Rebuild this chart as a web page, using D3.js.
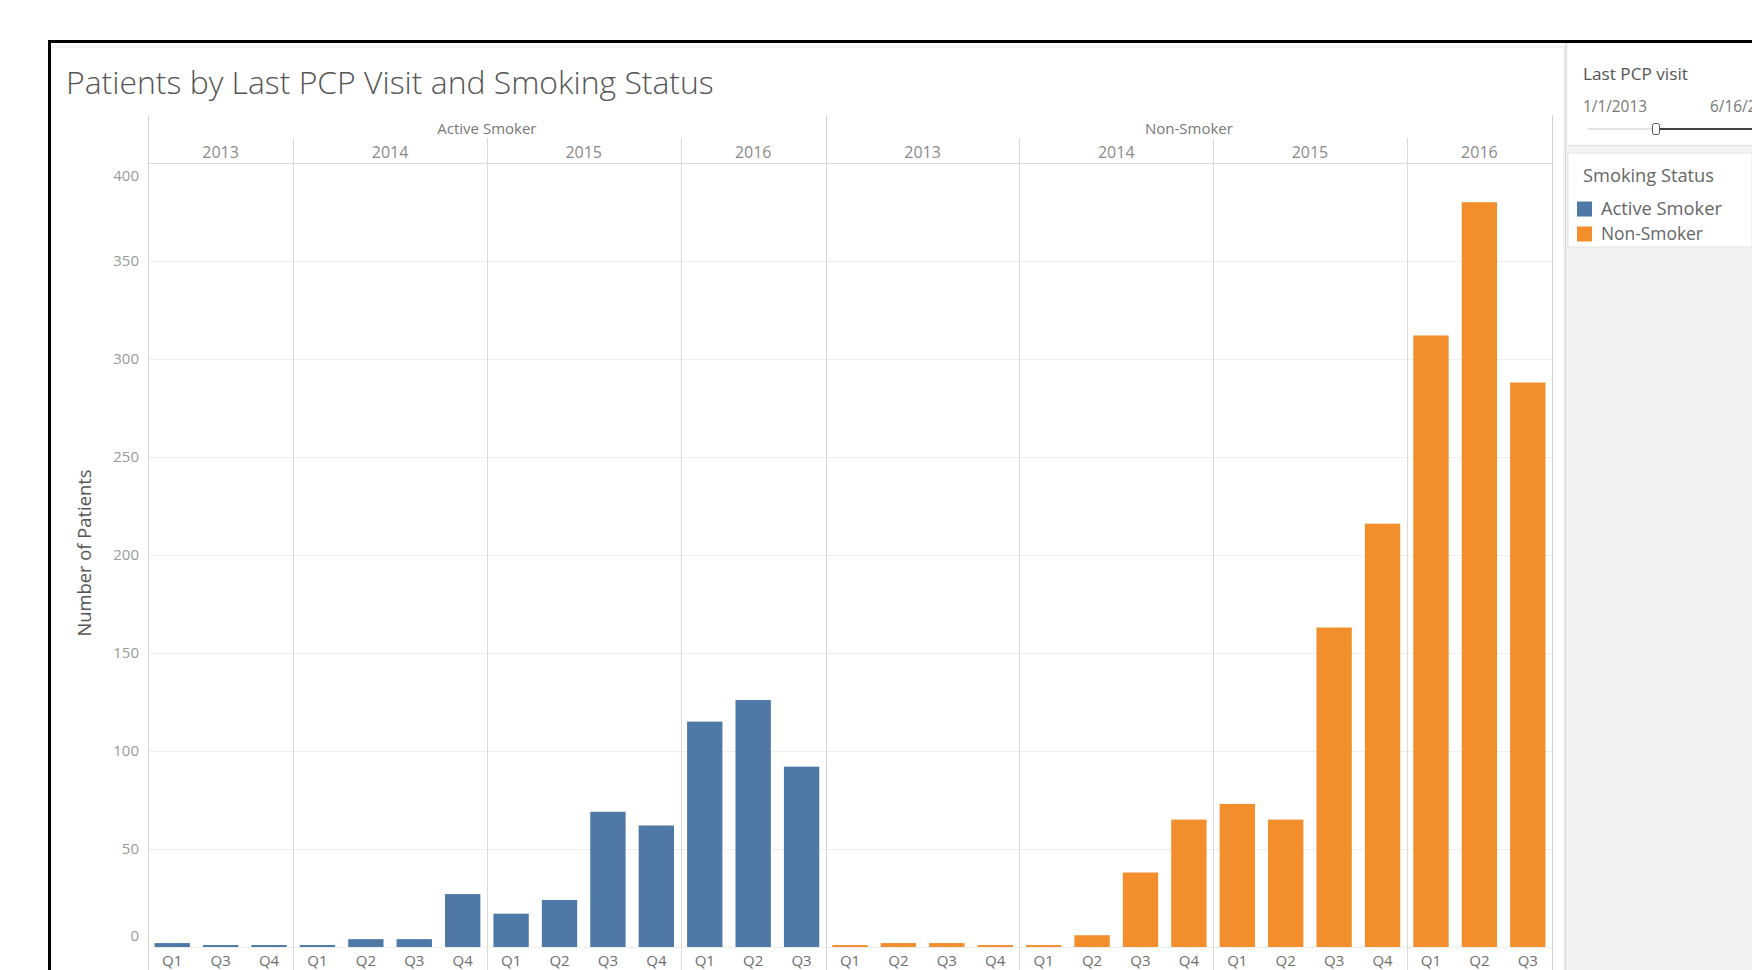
<!DOCTYPE html>
<html>
<head>
<meta charset="utf-8">
<script src="https://cdn.jsdelivr.net/npm/d3@7"></script>
<style>
  html, body { margin: 0; padding: 0; background: #fff; overflow: hidden; }
  svg { display: block; }
  text { font-family: "Open Sans", "DejaVu Sans", sans-serif; }
</style>
</head>
<body>
<svg id="chart" width="1752" height="970"></svg>
<script>
// ---- data -------------------------------------------------------------
const statuses = ["Active Smoker", "Non-Smoker"];
const years = ["2013", "2014", "2015", "2016"];

const activeQuarters = [["Q1", "Q3", "Q4"], ["Q1", "Q2", "Q3", "Q4"], ["Q1", "Q2", "Q3", "Q4"], ["Q1", "Q2", "Q3"]];
const activeValues   = [[2, 1, 1], [1, 4, 4, 27], [17, 24, 69, 62], [115, 126, 92]];

const nonQuarters = [["Q1", "Q2", "Q3", "Q4"], ["Q1", "Q2", "Q3", "Q4"], ["Q1", "Q2", "Q3", "Q4"], ["Q1", "Q2", "Q3"]];
const nonValues   = [[1, 2, 2, 1], [1, 6, 38, 65], [73, 65, 163, 216], [312, 380, 288]];

const yTicks = [0, 50, 100, 150, 200, 250, 300, 350, 400];
const statusColors = ["#4e79a7", "#f28e2b"];

const chartTitle = "Patients by Last PCP Visit and Smoking Status";
const yTitle = "Number of Patients";
const filterTitle = "Last PCP visit";
const filterStart = "1/1/2013";
const filterEnd = "6/16/2016";
const legendTitle = "Smoking Status";

// ---- flatten into rows ------------------------------------------------
const quarterSets = [activeQuarters, nonQuarters];
const valueSets = [activeValues, nonValues];
const rows = [];
statuses.forEach((s, si) => {
  years.forEach((yr, yi) => {
    quarterSets[si][yi].forEach((q, qi) => {
      rows.push({ status: s, si, year: yr, quarter: q, value: valueSets[si][yi][qi], key: `${s}|${yr}|${q}` });
    });
  });
});

// ---- layout -----------------------------------------------------------
const svg = d3.select("#chart");
const W = 1752, H = 970;
const plot = { left: 148, right: 1552, top: 163, bottom: 947 };
const headerTop = 115, yearTop = 138;

// Fit a text element to a target width by scaling its font size
function fit(sel, target) {
  const node = sel.node();
  const fs = parseFloat(sel.attr("font-size"));
  const w = node.getComputedTextLength();
  if (w > 0) sel.attr("font-size", (fs * target / w).toFixed(2));
  return sel;
}

// Outer frame
svg.append("rect").attr("x", 0).attr("y", 0).attr("width", W).attr("height", H).attr("fill", "#fff");
svg.append("rect").attr("x", 51).attr("y", 47).attr("width", 1513).attr("height", H)
  .attr("fill", "#fff").attr("stroke", "#e6e6e6").attr("stroke-width", 1);

// Side panel (filter + legend)
svg.append("rect").attr("x", 1565).attr("y", 43).attr("width", W - 1565).attr("height", H - 43).attr("fill", "#f2f2f2");
svg.append("line").attr("x1", 1565.5).attr("x2", 1565.5).attr("y1", 43).attr("y2", H).attr("stroke", "#d6d6d6");
svg.append("rect").attr("x", 1568).attr("y", 43).attr("width", W - 1568).attr("height", 102).attr("fill", "#fff");
svg.append("line").attr("x1", 1568).attr("x2", W).attr("y1", 145.5).attr("y2", 145.5).attr("stroke", "#e0e0e0");
svg.append("rect").attr("x", 1568).attr("y", 153).attr("width", W - 1568).attr("height", 94)
  .attr("fill", "#fff").attr("stroke", "#e3e3e3");

// Black border around the dashboard
svg.append("path").attr("d", `M49.5,${H} V41.5 H${W}`).attr("fill", "none").attr("stroke", "#000").attr("stroke-width", 3);

// Title
fit(svg.append("text").attr("x", 66).attr("y", 94).attr("font-size", 28).attr("fill", "#555")
  .attr("font-weight", 300).text(chartTitle), 648);

// ---- scales -----------------------------------------------------------
const pad = 0.27;
const x = d3.scaleBand().domain(rows.map(d => d.key)).range([plot.left, plot.right])
  .paddingInner(pad).paddingOuter(pad / 2);
const y = d3.scaleLinear().domain([0, 400]).range([plot.bottom, plot.top]);
const step = x.step();

// Gridlines
svg.append("g").selectAll("line").data(yTicks).join("line")
  .attr("x1", plot.left).attr("x2", plot.right)
  .attr("y1", d => Math.round(y(d)) + 0.5).attr("y2", d => Math.round(y(d)) + 0.5)
  .attr("stroke", "#efefef").attr("stroke-width", 1);

// Header lines: status boundaries and year boundaries
const statusBounds = [];
const yearBounds = [];
let idx = 0;
statuses.forEach((s, si) => {
  statusBounds.push({ s, start: idx });
  years.forEach((yr, yi) => {
    const n = quarterSets[si][yi].length;
    yearBounds.push({ yr, start: idx, n, first: yi === 0 });
    idx += n;
  });
});
const xAt = i => plot.left + i * step;

// status-level lines (tall)
const tallLines = statusBounds.map(b => xAt(b.start)).concat([plot.right]);
svg.append("g").selectAll("line").data(tallLines).join("line")
  .attr("x1", d => Math.round(d) + 0.5).attr("x2", d => Math.round(d) + 0.5)
  .attr("y1", headerTop).attr("y2", H)
  .attr("stroke", "#d4d4d4");
// year-level lines
svg.append("g").selectAll("line").data(yearBounds.filter(b => !b.first)).join("line")
  .attr("x1", d => Math.round(xAt(d.start)) + 0.5).attr("x2", d => Math.round(xAt(d.start)) + 0.5)
  .attr("y1", yearTop).attr("y2", H)
  .attr("stroke", "#dadada");
// line under the year header
svg.append("line").attr("x1", plot.left).attr("x2", plot.right)
  .attr("y1", plot.top + 0.5).attr("y2", plot.top + 0.5).attr("stroke", "#dcdcdc");

// Status header labels
statusBounds.forEach((b, i) => {
  const end = i + 1 < statusBounds.length ? statusBounds[i + 1].start : rows.length;
  svg.append("text").attr("x", (xAt(b.start) + xAt(end)) / 2).attr("y", 134)
    .attr("text-anchor", "middle").attr("font-size", 15).attr("fill", "#777").text(b.s);
});
// Year header labels
svg.append("g").selectAll("text").data(yearBounds).join("text")
  .attr("x", d => xAt(d.start) + d.n * step / 2).attr("y", 158)
  .attr("text-anchor", "middle").attr("font-size", 16).attr("fill", "#8a8a8a").text(d => d.yr);

// ---- bars -------------------------------------------------------------
svg.append("g").selectAll("rect").data(rows).join("rect")
  .attr("x", d => x(d.key)).attr("width", x.bandwidth())
  .attr("y", d => y(d.value)).attr("height", d => y(0) - y(d.value))
  .attr("fill", d => statusColors[d.si]);

// ---- axes -------------------------------------------------------------
const yAxis = svg.append("g").attr("transform", `translate(${plot.left},0)`)
  .call(d3.axisLeft(y).tickValues(yTicks).tickSize(0).tickPadding(9));
yAxis.select(".domain").remove();
yAxis.selectAll("text")
  .attr("font-family", "'DejaVu Sans', sans-serif").attr("font-size", 15).attr("fill", "#9a9a9a")
  .attr("dy", d => d === 0 ? "-0.45em" : d === 400 ? "1.18em" : "0.32em");

// quarter labels along the bottom edge
svg.append("g").selectAll("text").data(rows).join("text")
  .attr("x", d => x(d.key) + x.bandwidth() / 2).attr("y", 966)
  .attr("text-anchor", "middle").attr("font-family", "'DejaVu Sans', sans-serif")
  .attr("font-size", 15).attr("fill", "#6e6e6e").text(d => d.quarter);

// y-axis title
fit(svg.append("text").attr("transform", "translate(91,553) rotate(-90)")
  .attr("text-anchor", "middle").attr("font-size", 14).attr("fill", "#555").text(yTitle), 167);

// ---- filter card ------------------------------------------------------
fit(svg.append("text").attr("x", 1583).attr("y", 80).attr("font-size", 15).attr("fill", "#555").text(filterTitle), 105);
const startLabel = fit(svg.append("text").attr("x", 1583).attr("y", 112).attr("font-size", 13).attr("fill", "#777").text(filterStart), 64);
svg.append("text").attr("x", 1710).attr("y", 112).attr("font-size", startLabel.attr("font-size"))
  .attr("fill", "#777").text(filterEnd);
svg.append("line").attr("x1", 1588).attr("x2", 1653).attr("y1", 129).attr("y2", 129).attr("stroke", "#c8c8c8").attr("stroke-width", 1);
svg.append("line").attr("x1", 1659).attr("x2", W).attr("y1", 129).attr("y2", 129).attr("stroke", "#444").attr("stroke-width", 2);
svg.append("rect").attr("x", 1652.5).attr("y", 123.5).attr("width", 7).attr("height", 11).attr("rx", 2)
  .attr("fill", "#fff").attr("stroke", "#555");

// ---- legend -----------------------------------------------------------
fit(svg.append("text").attr("x", 1583).attr("y", 182).attr("font-size", 15).attr("fill", "#666").text(legendTitle), 131);
const legendWidths = [121, 102];
statuses.forEach((s, i) => {
  const cy = 209 + i * 25;
  svg.append("rect").attr("x", 1577).attr("y", cy - 7.5).attr("width", 15).attr("height", 15).attr("fill", statusColors[i]);
  fit(svg.append("text").attr("x", 1601).attr("y", cy + 5.5).attr("font-size", 16).attr("fill", "#666").text(s), legendWidths[i]);
});
</script>
</body>
</html>
